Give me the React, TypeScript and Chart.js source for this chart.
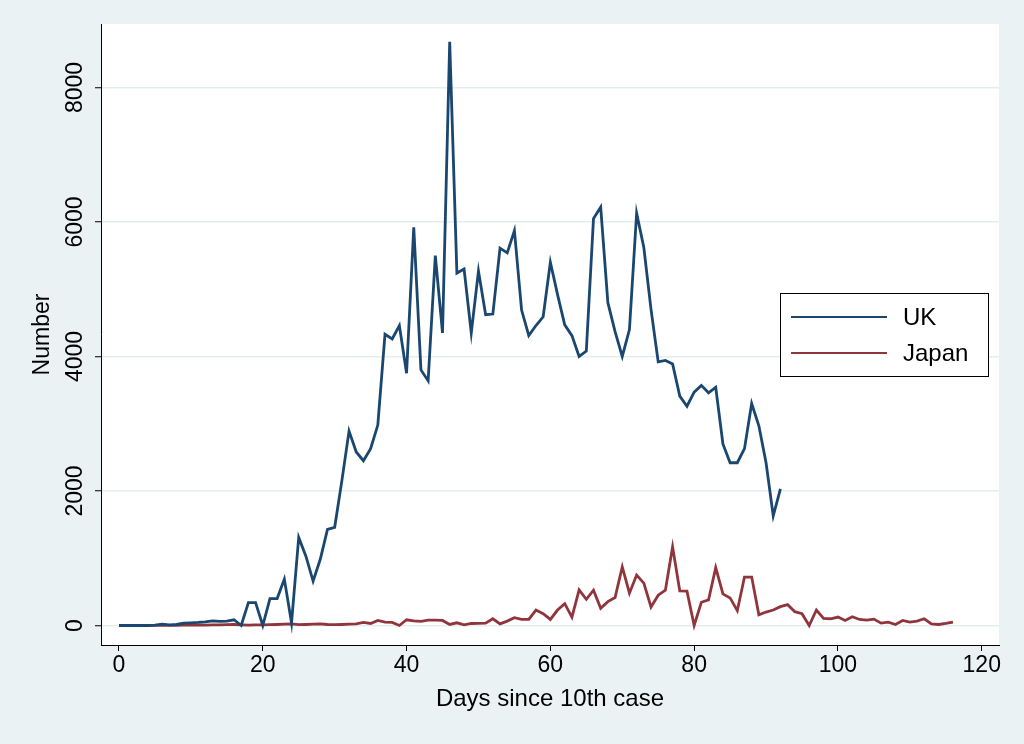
import React, { useEffect, useRef } from "react";
import { Chart, registerables } from "chart.js";

Chart.register(...registerables);

// ---- data ----
const ukCases = [
  0, 0, 0, 0, 0, 5, 20, 10, 15, 35,
  40, 45, 55, 70, 60, 65, 85, 0, 340, 340,
  0, 400, 400, 690, 40, 1310, 1030, 660, 985, 1430,
  1460, 2150, 2890, 2580, 2450, 2630, 2980, 4330, 4260, 4460,
  3750, 5920, 3800, 3640, 5500, 4350, 8680, 5240, 5300, 4350,
  5270, 4620, 4630, 5610, 5540, 5870, 4690, 4310, 4460, 4590,
  5400, 4920, 4470, 4310, 4000, 4080, 6050, 6220, 4800, 4370,
  4000, 4400, 6130, 5620, 4700, 3920, 3940, 3890, 3410, 3260,
  3470, 3570, 3460, 3540, 2700, 2420, 2420, 2630, 3300, 2970,
  2420, 1630, 2030,
];

const japanCases = [
  0, 0, 0, 0, 1, 2, 1, 3, 2, 5,
  5, 8, 6, 10, 8, 12, 15, 10, 5, 8,
  10, 12, 15, 20, 25, 12, 15, 20, 25, 15,
  12, 15, 20, 25,
  45, 30, 75, 50, 45, 0, 85, 70, 60, 80,
  80, 75, 15, 40, 10, 30,
  32, 35, 100, 25, 65, 115, 90, 90, 230, 175,
  90, 230, 325, 125, 530, 390, 525, 255, 355, 415,
  870, 480, 750, 630, 275, 450, 525, 1170, 515, 510,
  0, 345, 380, 860, 470, 410, 220, 720, 720, 160,
  200, 230, 280, 310, 205, 175, 0, 230, 105, 100,
  125, 75, 130, 90, 80, 95, 35, 50, 15, 75,
  50, 65, 100, 25, 15, 30, 50,
];

const seriesNames = ["UK", "Japan"];
const xTickValues = [0, 20, 40, 60, 80, 100, 120];
const yTickValues = [0, 2000, 4000, 6000, 8000];
const xTitle = "Days since 10th case";
const yTitle = "Number";

// ---- style ----
const FONT = "'Liberation Sans', Arial, Helvetica, sans-serif";
const BG = "#eaf2f3";
const GRID = "#e4edef";
const UK_COLOR = "#1a476f";
const JP_COLOR = "#90353b";

const toPoints = (arr: number[]) => arr.map((v, i) => ({ x: i, y: v }));

const backgroundPlugin = {
  id: "stataBackground",
  beforeDraw(chart: any) {
    const { ctx, chartArea, width, height } = chart;
    ctx.save();
    ctx.fillStyle = BG;
    ctx.fillRect(0, 0, width, height);
    ctx.fillStyle = "#ffffff";
    ctx.fillRect(
      chartArea.left,
      chartArea.top,
      chartArea.right - chartArea.left,
      chartArea.bottom - chartArea.top
    );
    ctx.restore();
  },
};

const legendPlugin = {
  id: "stataLegend",
  afterDraw(chart: any) {
    const { ctx } = chart;
    const x0 = 780;
    const y0 = 293;
    const w = 208;
    const h = 83;
    ctx.save();
    ctx.fillStyle = "#ffffff";
    ctx.fillRect(x0, y0, w, h);
    ctx.strokeStyle = "#000000";
    ctx.lineWidth = 1;
    ctx.strokeRect(x0 + 0.5, y0 + 0.5, w, h);
    chart.data.datasets.forEach((ds: any, i: number) => {
      const y = y0 + 24 + i * 36;
      ctx.strokeStyle = ds.borderColor;
      ctx.lineWidth = 2;
      ctx.beginPath();
      ctx.moveTo(x0 + 11, y);
      ctx.lineTo(x0 + 107, y);
      ctx.stroke();
      ctx.fillStyle = "#000000";
      ctx.font = `24px ${FONT}`;
      ctx.textBaseline = "middle";
      ctx.textAlign = "left";
      ctx.fillText(ds.label, x0 + 123, y + 1);
    });
    ctx.restore();
  },
};

export default function App() {
  const canvasRef = useRef<HTMLCanvasElement | null>(null);

  useEffect(() => {
    if (!canvasRef.current) return;
    Chart.defaults.font.family = FONT;
    const chart = new Chart(canvasRef.current, {
      type: "line",
      data: {
        datasets: [
          {
            label: seriesNames[0],
            data: toPoints(ukCases),
            borderColor: UK_COLOR,
            backgroundColor: UK_COLOR,
            borderWidth: 2.8,
            pointRadius: 0,
            tension: 0,
            fill: false,
          },
          {
            label: seriesNames[1],
            data: toPoints(japanCases),
            borderColor: JP_COLOR,
            backgroundColor: JP_COLOR,
            borderWidth: 2.8,
            pointRadius: 0,
            tension: 0,
            fill: false,
          },
        ],
      },
      options: {
        animation: false,
        responsive: false,
        maintainAspectRatio: false,
        layout: { padding: { top: 24, right: 25, left: 0, bottom: 0 } },
        plugins: {
          legend: { display: false },
          tooltip: { enabled: false },
        },
        scales: {
          x: {
            type: "linear",
            min: -2.5,
            max: 122.4,
            afterBuildTicks: (s: any) => {
              s.ticks = xTickValues.map((v) => ({ value: v }));
            },
            afterFit: (s: any) => {
              s.height = 99;
            },
            grid: {
              drawOnChartArea: false,
              drawTicks: true,
              tickLength: 6,
              tickColor: "#000000",
              tickWidth: 1,
            },
            border: { display: true, color: "#000000", width: 1 },
            ticks: {
              color: "#000000",
              font: { size: 23 },
              padding: 1,
              maxRotation: 0,
              autoSkip: false,
              callback: (v: any) => String(v),
            },
            title: {
              display: true,
              text: xTitle,
              color: "#000000",
              font: { size: 24 },
              padding: { top: 0, bottom: 30 },
            },
          },
          y: {
            type: "linear",
            min: -290,
            max: 8943,
            afterBuildTicks: (s: any) => {
              s.ticks = yTickValues.map((v) => ({ value: v }));
            },
            afterFit: (s: any) => {
              s.width = 101;
            },
            grid: {
              color: GRID,
              lineWidth: 1.5,
              drawTicks: true,
              tickLength: 6,
              tickColor: "#000000",
              tickWidth: 1,
            },
            border: { display: true, color: "#000000", width: 1 },
            ticks: {
              color: "#000000",
              font: { size: 23 },
              minRotation: 90,
              maxRotation: 90,
              crossAlign: "center",
              padding: -6,
              autoSkip: false,
              callback: (v: any) => String(v),
            },
            title: {
              display: true,
              text: yTitle,
              color: "#000000",
              font: { size: 23 },
              padding: { top: 29, bottom: 0 },
            },
          },
        },
      },
      plugins: [backgroundPlugin, legendPlugin],
    } as any);
    return () => chart.destroy();
  }, []);

  return (
    <div
      style={{
        position: "fixed",
        left: 0,
        top: 0,
        width: 1024,
        height: 744,
        background: BG,
      }}
    >
      <canvas
        ref={canvasRef}
        width={1024}
        height={744}
        style={{ display: "block", width: 1024, height: 744 }}
      />
    </div>
  );
}
